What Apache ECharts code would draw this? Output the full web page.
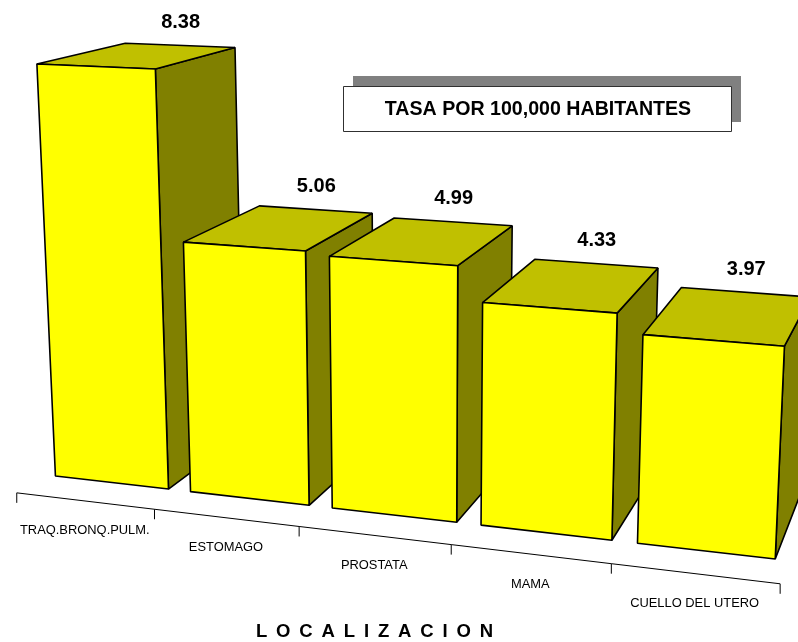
<!DOCTYPE html>
<html><head><meta charset="utf-8"><style>html,body{margin:0;padding:0;background:#fff}#c{width:798px;height:642px}</style>
<script src="https://cdn.jsdelivr.net/npm/echarts@6/dist/echarts.min.js"></script></head><body><div id="c"></div>
<script>
const categories=['TRAQ.BRONQ.PULM.','ESTOMAGO','PROSTATA','MAMA','CUELLO DEL UTERO'];
const values=[8.38,5.06,4.99,4.33,3.97];
const boxTitle='TASA POR 100,000 HABITANTES';
const axisTitle='L O C A L I Z A C I O N';
// Perspective camera: (band position, value, depth) -> screen
const camera=[130.42321,-2.4177233,95.273464,44.891291,4.1273395,-49.450603,-15.752558,474.82014,-0.023244244,-0.0056971394,0.089952241];
const barGap=0.08, axisDepth=-0.30;
function proj(u,v,z){const p=camera,w=p[8]*u+p[9]*v+p[10]*z+1;return [(p[0]*u+p[1]*v+p[2]*z+p[3])/w,(p[4]*u+p[5]*v+p[6]*z+p[7])/w];}
const chart=echarts.init(document.getElementById('c'));
const FONT="'Liberation Sans',Arial,sans-serif";
chart.setOption({animation:false,
 grid:{left:0,top:0,width:500,height:500,show:false},
 xAxis:{type:'category',data:categories,show:false},
 yAxis:{type:'value',min:0,max:10,show:false},
 graphic:[
  {type:'rect',silent:true,shape:{x:353,y:76,width:388,height:46},style:{fill:'#808080'}},
  {type:'rect',silent:true,shape:{x:343.5,y:86.5,width:388,height:45},style:{fill:'#fff',stroke:'#303030',lineWidth:1}},
  {type:'text',silent:true,style:{text:boxTitle,x:538,y:109.5,align:'center',verticalAlign:'middle',font:"bold 19.6px "+FONT,fill:'#000'}},
  {type:'text',silent:true,style:{text:axisTitle.split(' ').join(' \u2009'),x:374.5,y:632,align:'center',verticalAlign:'middle',font:"bold 18.5px "+FONT,fill:'#000'}}
 ],
 series:[
 {type:'custom',silent:true,data:categories.map((c,i)=>[i,0]),renderItem(params,api){
  const c=api.coord([api.value(0),0]),band=api.size([1,0])[0];
  const uc=c[0]/band,a=proj(uc-0.5,0,axisDepth),b=proj(uc+0.5,0,axisDepth),m=proj(uc,0,axisDepth);
  const ls={stroke:'#000',lineWidth:1};
  const line=(p,q)=>({type:'line',shape:{x1:p[0],y1:p[1],x2:q[0],y2:q[1]},style:ls});
  const ch=[line(a,b),line(b,[b[0],b[1]+10])];
  if(api.value(0)===0)ch.push(line(a,[a[0],a[1]+10]));
  ch.push({type:'text',style:{text:categories[api.value(0)],x:m[0],y:m[1]+30,align:'center',verticalAlign:'middle',font:"12.9px "+FONT,fill:'#000'}});
  return {type:'group',children:ch};
 }},
 {type:'custom',silent:true,data:values.map((v,i)=>[i,v]),renderItem(params,api){
  const c=api.coord([api.value(0),api.value(1)]),band=api.size([1,0])[0];
  const uc=c[0]/band,v=(500-c[1])/50,l=uc-0.5+barGap,r=uc+0.5-barGap;
  const st=f=>({fill:f,stroke:'#000',lineWidth:1.6,lineJoin:'bevel'});
  const lab=proj(uc,v,1);
  return {type:'group',children:[
   {type:'polygon',shape:{points:[proj(r,v,0),proj(r,v,1),proj(r,0,1),proj(r,0,0)]},style:st('#808000')},
   {type:'polygon',shape:{points:[proj(l,v,0),proj(l,v,1),proj(r,v,1),proj(r,v,0)]},style:st('#c0c000')},
   {type:'polygon',shape:{points:[proj(l,v,0),proj(r,v,0),proj(r,0,0),proj(l,0,0)]},style:st('#ffff00')},
   {type:'text',style:{text:api.value(1).toFixed(2),x:lab[0]+1,y:lab[1]-23,align:'center',verticalAlign:'middle',font:"bold 20px "+FONT,fill:'#000'}}
  ]};
 }}]
});
</script></body></html>
